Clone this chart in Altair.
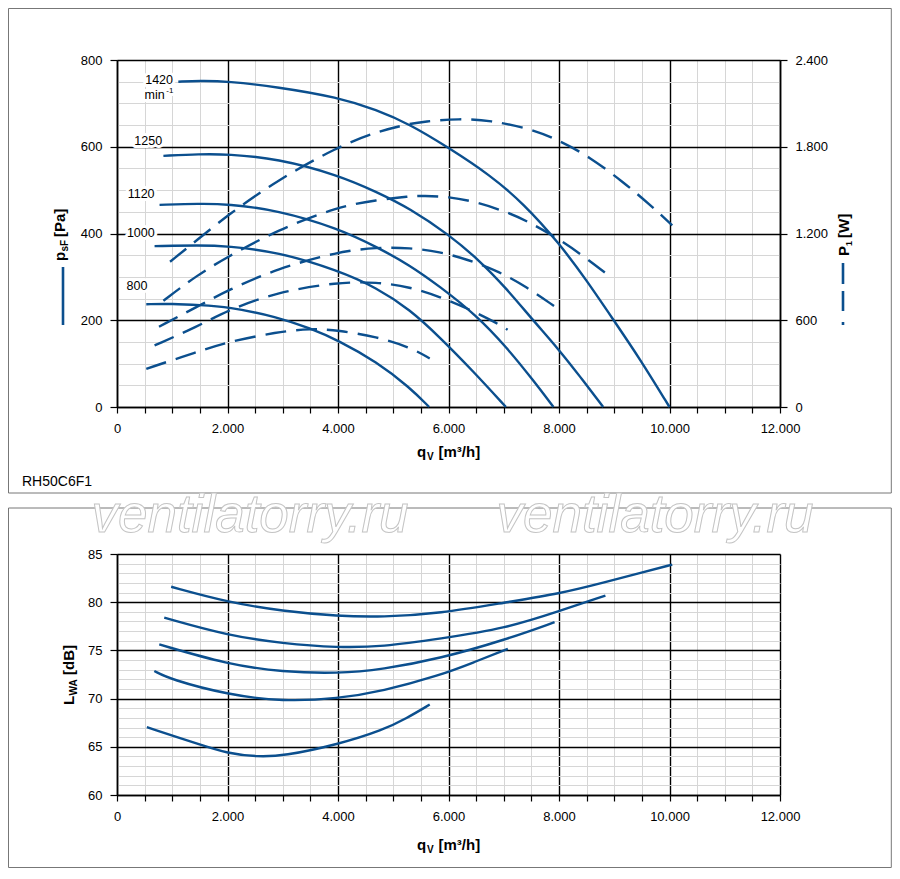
import altair as alt
import pandas as pd

# ------------------------------------------------------------------ data
speeds = ["1420", "1250", "1120", "1000", "800"]

# static pressure p_sF [Pa] vs q_V [m3/h]
psf_x = {
    "1420": [1110, 1500, 2000, 2900, 4000, 4700, 5300, 6000, 6750, 7350, 8000, 8500, 9000, 9460, 10000],
    "1250": [840, 1500, 2000, 2900, 4000, 4700, 5300, 6000, 6560, 7050, 7530, 8000, 8370, 8800],
    "1120": [770, 1500, 2000, 2900, 4000, 4700, 5300, 5840, 6500, 7050, 7530, 7900],
    "1000": [680, 1500, 2000, 2900, 4000, 4700, 5300, 5850, 6450, 7040],
    "800":  [530, 1000, 1500, 2000, 2900, 3500, 4000, 4700, 5300, 5650],
}
psf_y = {
    "1420": [750, 752, 751, 738, 714, 685, 652, 598, 535, 470, 378, 292, 198, 112, 0],
    "1250": [579, 583, 583, 573, 535, 496, 458, 398, 338, 273, 200, 132, 72, 0],
    "1120": [466, 469, 468, 454, 412, 369, 327, 278, 212, 138, 62, 0],
    "1000": [371, 373, 371, 358, 315, 275, 225, 160, 82, 0],
    "800":  [237, 238, 235, 231, 208, 181, 154, 104, 45, 0],
}

# electrical power P_1 [W] vs q_V [m3/h]
p1_x = {
    "1420": [960, 1450, 2000, 2900, 4000, 4700, 5300, 5540, 6200, 6750, 7470, 8000, 8550, 9160, 9640, 10050],
    "1250": [840, 1450, 2000, 2900, 4000, 4700, 5300, 5540, 6000, 6500, 7050, 7450, 7950, 8400, 8830],
    "1120": [760, 1450, 2000, 2900, 4000, 4700, 5300, 5840, 6350, 6920, 7410, 7920],
    "1000": [680, 1450, 2000, 2900, 4000, 4700, 5300, 5840, 6350, 6870, 7070],
    "800":  [530, 1450, 2000, 2900, 3500, 4000, 4700, 5300, 5660],
}
p1_w = {
    "1420": [1005, 1155, 1326, 1569, 1800, 1905, 1959, 1974, 1995, 1983, 1926, 1845, 1731, 1557, 1401, 1257],
    "1250": [735, 912, 1038, 1224, 1386, 1431, 1458, 1461, 1455, 1419, 1350, 1281, 1173, 1056, 930],
    "1120": [555, 693, 807, 957, 1074, 1104, 1101, 1074, 1020, 936, 831, 696],
    "1000": [426, 555, 669, 795, 864, 864, 831, 762, 681, 582, 534],
    "800":  [264, 381, 450, 519, 543, 531, 486, 414, 336],
}

# sound power L_WA [dB] vs q_V [m3/h]
lwa_x = {
    "1420": [980, 2000, 3000, 4000, 4800, 5840, 7050, 8000, 8860, 9460, 10050],
    "1250": [855, 2000, 3000, 4000, 4800, 5840, 7050, 8000, 8840],
    "1120": [765, 2000, 3000, 4000, 4800, 5840, 7050, 7920],
    "1000": [675, 964, 2000, 3000, 4000, 4800, 5840, 6440, 7075],
    "800":  [540, 1500, 2000, 2530, 3010, 4000, 4820, 5240, 5660],
}
lwa_db = {
    "1420": [81.6, 80.0, 79.07, 78.55, 78.45, 78.83, 80.0, 80.86, 82.1, 83.03, 83.9],
    "1250": [78.4, 76.55, 75.72, 75.28, 75.38, 76.2, 77.3, 79.07, 80.69],
    "1120": [75.62, 73.55, 72.76, 72.59, 73.03, 74.14, 76.14, 77.93],
    "1000": [72.86, 72.0, 70.41, 69.69, 70.0, 70.76, 72.41, 73.72, 75.17],
    "800":  [67.03, 65.24, 64.31, 63.97, 64.03, 65.24, 66.75, 67.95, 69.38],
}

# speed labels (anchor in data units: q_V, p_sF)
label_text = ["1420", "1250", "1120", "1000", "800"]
label_x = [762, 566, 436, 431, 362]
label_p = [745, 603, 481, 392, 269]
unit_text = ["min", "-1"]
unit_x = [499, 892]
unit_p = [711, 723]
unit_size = [12.5, 8]

x_ticks = list(range(0, 12001, 500))
p_ticks = list(range(0, 801, 50))
w_ticks = [0, 600, 1200, 1800, 2400]
db_ticks = list(range(60, 86, 1))

# ------------------------------------------------------------------ style
BLUE = "#0b4f8e"
FONT = "Liberation Sans"
MINOR = "#d6d6d6"
FMT = "replace(format(datum.value, ','), ',', '.')"
CURVE = "basis"


def grid_cond(step, major, minor):
    return {"condition": {"test": f"datum.value % {step} === 0", "value": major}, "value": minor}


def long(xs, ys, name):
    rows = []
    for s in speeds:
        for a, b in zip(xs[s], ys[s]):
            rows.append({"speed": s, "x": a, name: b})
    return pd.DataFrame(rows)


df_p = long(psf_x, psf_y, "p")
df_w = long(p1_x, p1_w, "w")
df_l = long(lwa_x, lwa_db, "db")
df_lab = pd.DataFrame({"x": label_x, "p": label_p, "t": label_text})
df_unit = pd.DataFrame({"x": unit_x, "p": unit_p, "t": unit_text, "s": unit_size})

XAXIS = dict(
    values=x_ticks,
    labelExpr=f"datum.value % 2000 === 0 ? {FMT} : ''",
    grid=True, gridColor=grid_cond(2000, "#000000", MINOR), gridWidth=grid_cond(2000, 1.4, 1),
    tickSize=6, tickColor="#000", tickWidth=1.2,
    domainColor="#000", domainWidth=1.6,
    labelFont=FONT, labelFontSize=13, labelColor="#000", labelPadding=9,
    labelFlush=False, labelOverlap=False, title=None,
)


def x_enc():
    return alt.X("x:Q", scale=alt.Scale(domain=[0, 12000], nice=False, zero=False),
                 axis=alt.Axis(**XAXIS), title=None)


def y_p():
    return alt.Y("p:Q", scale=alt.Scale(domain=[0, 800], nice=False, zero=False), title=None,
                 axis=alt.Axis(values=p_ticks, labelExpr=f"datum.value % 200 === 0 ? {FMT} : ''",
                               grid=True, gridColor=grid_cond(200, "#000000", MINOR),
                               gridWidth=grid_cond(200, 1.4, 1),
                               tickOpacity=grid_cond(200, 1, 0), tickSize=7, tickColor="#000",
                               tickWidth=1.2, domainColor="#000", domainWidth=1.6,
                               labelFont=FONT, labelFontSize=13, labelColor="#000",
                               labelPadding=8, labelOverlap=False, title=None))


one = alt.Data(values=[{"k": 1}])


def txt(text, x, y, size, bold=False, angle=0, align="left", color="#000"):
    kw = dict(font=FONT, fontSize=size, fontWeight="bold" if bold else "normal",
              align=align, baseline="alphabetic", color=color)
    if angle:
        kw["angle"] = angle
    return alt.Chart(one).mark_text(**kw).encode(
        x=alt.value(x), y=alt.value(y), text=alt.value(text))


def frame(x1, x2, y1, y2):
    return alt.Chart(one).mark_rect(fill="white", fillOpacity=0, stroke="#777777", strokeWidth=1).encode(
        x=alt.value(x1), x2=alt.value(x2), y=alt.value(y1), y2=alt.value(y2))


# ------------------------------------------------------------------ top panel
p_lines = alt.Chart(df_p).mark_line(color=BLUE, strokeWidth=2.4, interpolate=CURVE).encode(
    x=x_enc(), y=y_p(), detail="speed:N")

lab_halo = alt.Chart(df_lab).mark_text(font=FONT, fontSize=12.5, align="center", baseline="alphabetic",
                                       fill="white", stroke="white", strokeWidth=6, strokeJoin="round").encode(
    x=x_enc(), y=y_p(), text="t:N")
lab_txt = alt.Chart(df_lab).mark_text(font=FONT, fontSize=12.5, align="center", baseline="alphabetic",
                                      color="#000").encode(x=x_enc(), y=y_p(), text="t:N")
unit_halo = alt.Chart(df_unit).mark_text(font=FONT, align="left", baseline="alphabetic",
                                         fill="white", stroke="white", strokeWidth=6, strokeJoin="round").encode(
    x=x_enc(), y=y_p(), text="t:N", size=alt.Size("s:Q", scale=None, legend=None))
unit_txt = alt.Chart(df_unit).mark_text(font=FONT, align="left", baseline="alphabetic", color="#000").encode(
    x=x_enc(), y=y_p(), text="t:N", size=alt.Size("s:Q", scale=None, legend=None))

pressure = alt.layer(p_lines, lab_halo, unit_halo, lab_txt, unit_txt)

w_lines = alt.Chart(df_w).mark_line(color=BLUE, strokeWidth=2.4, interpolate=CURVE,
                                    strokeDash=[21, 10]).encode(
    x=x_enc(),
    y=alt.Y("w:Q", scale=alt.Scale(domain=[0, 2400], nice=False, zero=False), title=None,
            axis=alt.Axis(orient="right", values=w_ticks, labelExpr=FMT, grid=False,
                          tickSize=7, tickColor="#000", tickWidth=1.2, domainColor="#000",
                          domainWidth=1.6, labelFont=FONT, labelFontSize=13, labelColor="#000",
                          labelPadding=8, title=None)),
    detail="speed:N")

top_decor = [
    frame(-108.5, 774.3, -51.5, 433),
    # left title p_sF [Pa] + solid symbol
    txt("p", -52, 201, 15, bold=True, angle=270),
    txt("sF", -49, 191.5, 10, bold=True, angle=270),
    txt("[Pa]", -52, 177, 15, bold=True, angle=270),
    alt.Chart(one).mark_rule(color=BLUE, strokeWidth=2.6).encode(
        x=alt.value(-54), y=alt.value(207), y2=alt.value(265)),
    # right title P_1 [W] + dashed symbol
    txt("P", 732, 196, 15, bold=True, angle=270),
    txt("1", 735, 186, 9, bold=True, angle=270),
    txt("[W]", 732, 178, 15, bold=True, angle=270),
    alt.Chart(one).mark_rule(color=BLUE, strokeWidth=2.6, strokeDash=[21, 7, 20, 11, 3, 100]).encode(
        x=alt.value(726), y=alt.value(203), y2=alt.value(266)),
    # x title
    txt("q", 300, 397, 15, bold=True),
    txt("V", 310, 400, 10, bold=True),
    txt("[m³/h]", 321.5, 397, 15, bold=True),
    txt("RH50C6F1", -95, 426, 14),
]

top = alt.layer(pressure, w_lines, *top_decor).resolve_scale(y="independent").properties(
    width=663, height=347)

# ------------------------------------------------------------------ bottom panel
l_lines = alt.Chart(df_l).mark_line(color=BLUE, strokeWidth=2.4, interpolate=CURVE).encode(
    x=x_enc(),
    y=alt.Y("db:Q", scale=alt.Scale(domain=[60, 85], nice=False, zero=False), title=None,
            axis=alt.Axis(values=db_ticks, labelExpr="datum.value % 5 === 0 ? datum.value : ''",
                          grid=True, gridColor=grid_cond(5, "#000000", MINOR),
                          gridWidth=grid_cond(5, 1.4, 1), tickOpacity=grid_cond(5, 1, 0),
                          tickSize=7, tickColor="#000", tickWidth=1.2, domainColor="#000",
                          domainWidth=1.6, labelFont=FONT, labelFontSize=13, labelColor="#000",
                          labelPadding=8, labelOverlap=False, title=None)),
    detail="speed:N")

wm = alt.Chart(one).mark_text(font=FONT, fontSize=53, fontStyle="italic", align="center",
                              baseline="alphabetic", fill="white", stroke="#c4c4c4", strokeWidth=1)
bottom_decor = [
    frame(-108.5, 774.3, -46, 313.5),
    wm.encode(x=alt.value(133), y=alt.value(-22), text=alt.value("ventilatorry.ru")),
    wm.encode(x=alt.value(538), y=alt.value(-22), text=alt.value("ventilatorry.ru")),
    txt("L", -43, 151, 15, bold=True, angle=270),
    txt("WA", -40, 141.5, 10, bold=True, angle=270),
    txt("[dB]", -43, 121, 15, bold=True, angle=270),
    txt("q", 300, 296, 15, bold=True),
    txt("V", 310, 299, 10, bold=True),
    txt("[m³/h]", 321.5, 296, 15, bold=True),
]

bottom = alt.layer(l_lines, *bottom_decor).properties(width=663, height=241)

chart = alt.vconcat(top, bottom, spacing=147, bounds="flush").properties(
    padding=0, background="white"
).configure_view(strokeWidth=0)

chart.save("out.html", embed_options={"renderer": "svg", "actions": False})
